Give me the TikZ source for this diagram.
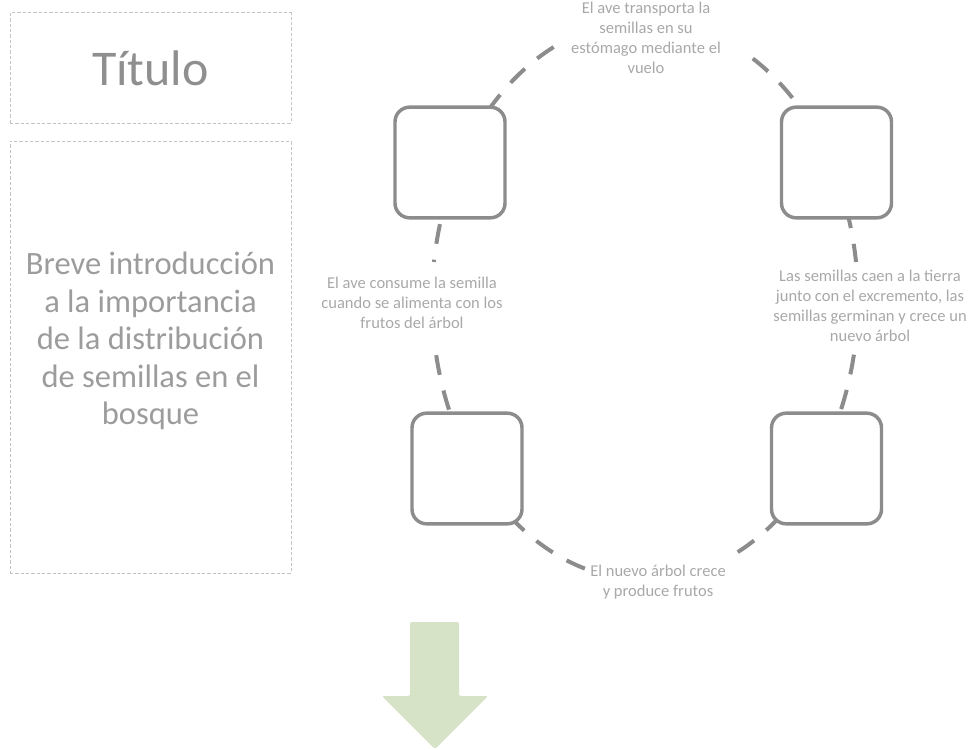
\documentclass[tikz,border=0pt]{standalone}
\usepackage{fontspec}
\setmainfont{Carlito}
\definecolor{strokegray}{HTML}{8C8C8C}
\definecolor{lblgray}{HTML}{A8A8A8}
\definecolor{ttlgray}{HTML}{8F8F8F}
\definecolor{introgray}{HTML}{9C9C9C}
\definecolor{framegray}{HTML}{C4C4C4}
\definecolor{arrowgreen}{HTML}{D6E3C6}
\begin{document}
\begin{tikzpicture}[x=0.75pt,y=-0.75pt,
  cycleline/.style={draw=strokegray, line width=3pt, dash pattern=on 15pt off 12pt},
  stagebox/.style={draw=strokegray, line width=2.6pt, rounded corners=11pt, fill=white,
    minimum width=82.5pt, minimum height=83pt, inner sep=0pt},
  steplabel/.style={text=lblgray, font=\fontsize{12.4pt}{15pt}\selectfont, align=center, inner sep=0pt},
  panel/.style={draw=framegray, line width=0.75pt, dash pattern=on 2.5pt off 1.5pt, minimum width=210.75pt, inner sep=0pt}]
\useasboundingbox (0,0) rectangle (970,749);

% dashed cycle (ellipse centre (645,300), radii 213 x 280); each piece starts at a label
\draw[cycleline, domain=-115.4:-172.2, samples=60, variable=\t] plot ({645+213*cos(\t)},{300+280*sin(\t)});
\draw[cycleline, domain=-59.6:-7.8, samples=60, variable=\t] plot ({645+213*cos(\t)},{300+280*sin(\t)});
\draw[cycleline, domain=64.2:10.7, samples=60, variable=\t] plot ({645+213*cos(\t)},{300+280*sin(\t)});
\draw[cycleline, domain=106.4:169.7, samples=60, variable=\t] plot ({645+213*cos(\t)},{300+280*sin(\t)});

% stage boxes
\node[stagebox] (s1) at (450,162.5) {};
\node[stagebox] (s2) at (836.5,162.5) {};
\node[stagebox] (s3) at (826.5,468.5) {};
\node[stagebox] (s4) at (467,468.5) {};

% step labels
\node[steplabel] (l1) at (646,38) {El ave transporta la\\semillas en su\\estómago mediante el\\vuelo};
\node[steplabel] (l2) at (870,306) {Las semillas caen a la tierra\\junto con el excremento, las\\semillas germinan y crece un\\nuevo árbol};
\node[steplabel] (l3) at (658,582) {El nuevo árbol crece\\y produce frutos};
\node[steplabel] (l4) at (412,303) {El ave consume la semilla\\cuando se alimenta con los\\frutos del árbol};

% left panels
\node[panel, minimum height=82.5pt, text=ttlgray, font=\fontsize{37.5pt}{45pt}\selectfont] (titlebox) at (150.5,68) {Título};
\node[panel, minimum height=324pt] (introbox) at (150.5,357) {};
\node[text=introgray, font=\fontsize{24.4pt}{28.1pt}\selectfont, align=center, inner sep=0pt] (introtext) at (150.5,341)
  {Breve introducción\\a la importancia\\de la distribución\\de semillas en el\\bosque};

% green arrow
\fill[arrowgreen, rounded corners=1.5pt] (410,622) -- (459,622) -- (459,696) -- (488,696) -- (435,749) -- (382,696) -- (410,696) -- cycle;
\end{tikzpicture}
\end{document}
